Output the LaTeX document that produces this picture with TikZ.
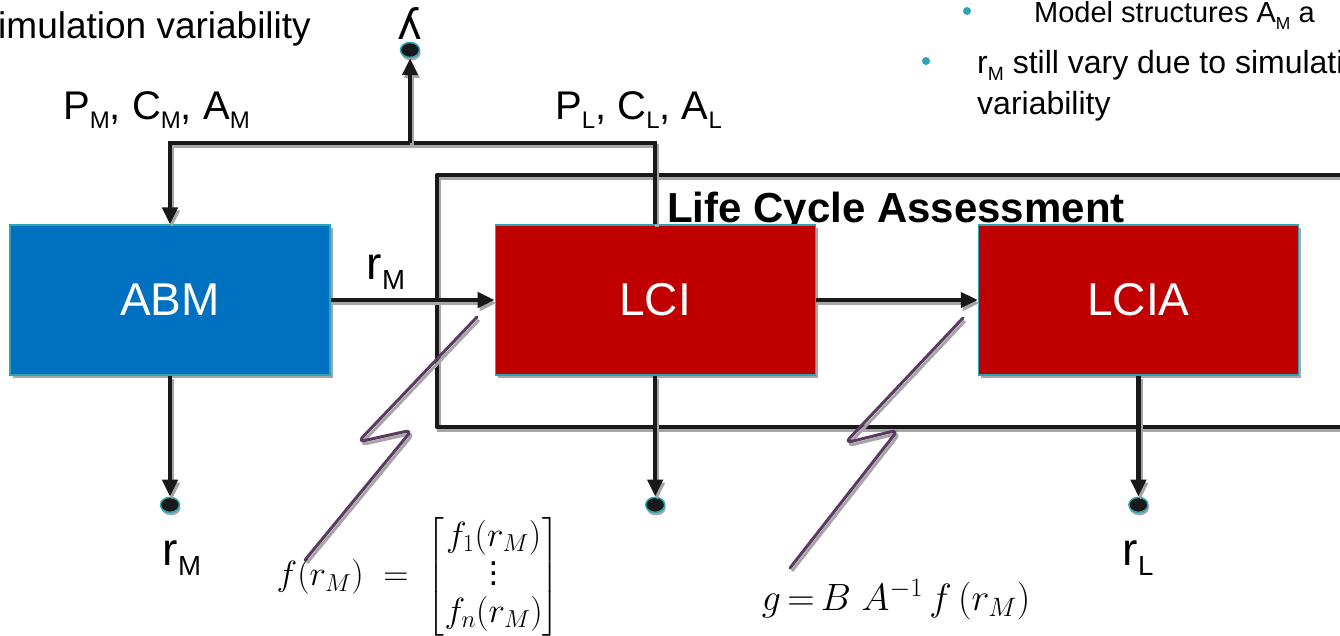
\RequirePackage{fix-cm}
\documentclass[tikz,border=0pt]{standalone}
\usepackage{amsmath}
\usepackage{fontspec}
\setmainfont{Liberation Sans}
\newfontfamily\ipafont{DejaVu Sans}
\usetikzlibrary{arrows.meta,shapes.geometric,shadows,positioning}
\definecolor{abmblue}{HTML}{0070C0}
\definecolor{lcared}{HTML}{C00000}
\definecolor{edgeteal}{HTML}{2BA5B5}
\definecolor{zigpurple}{HTML}{5A3A60}
\definecolor{linegray}{HTML}{A6A6A6}
% small lowered subscript as on the slide
\newcommand{\lo}[1]{\raisebox{-0.22em}{\scalebox{0.6}{#1}}}
% vertical dots that grow with the font
\newcommand{\tallvdots}{\vbox{\baselineskip=10pt\lineskiplimit=0pt\kern4pt\hbox{.}\hbox{.}\hbox{.}}}
\tikzset{
  stage/.style={rectangle,draw=edgeteal,line width=1.2pt,minimum width=320pt,
    minimum height=150pt,inner sep=0pt,text=white,font=\fontsize{46}{52}\selectfont,
    drop shadow={shadow xshift=3pt,shadow yshift=-3pt,fill=linegray,opacity=1}},
  flow/.style={draw=black!90,line width=4.5pt,
    preaction={draw=linegray,line width=4.5pt,transform canvas={shift={(2pt,-3pt)}}}},
  tip/.style={-{Triangle[length=17pt,width=15pt]}},
  term/.style={ellipse,fill=black!90,draw=edgeteal,line width=1.5pt,minimum width=19pt,
    minimum height=15pt,inner sep=0pt,
    drop shadow={shadow xshift=1pt,shadow yshift=-3pt,fill=linegray,opacity=1}},
  lab/.style={inner sep=0pt,font=\fontsize{46}{52}\selectfont},
  plab/.style={inner sep=0pt,font=\fontsize{40}{46}\selectfont},
  zig/.style={draw=zigpurple,line width=3pt,rounded corners=7pt,line cap=round,
    preaction={draw=linegray,line width=3pt,transform canvas={shift={(2pt,-3pt)}}}},
}
\begin{document}
\begin{tikzpicture}[x=1pt,y=-1pt]
\useasboundingbox (0,0) rectangle (1340,636);

% slide text
\node[inner sep=0pt,anchor=base east,font=\fontsize{37}{42}\selectfont] (simtxt) at (311,39) {imulation variability};
\fill[edgeteal] (967,11) circle (4pt);
\node[inner sep=0pt,anchor=base west,font=\fontsize{29}{34}\selectfont] (subitem) at (1034,23) {Model structures A\lo{M} a};
\fill[edgeteal] (926,61) circle (4pt);
\node[inner sep=0pt,anchor=north west,align=left,font=\fontsize{32}{41}\selectfont] (item) at (977,50) {r\lo{M} still vary due to simulati\\variability};

% LCA frame
\draw[flow,line join=round] (437,175) rectangle (1400,427);
\node[inner sep=0pt,anchor=base west,font=\bfseries\fontsize{42}{48}\selectfont] (lcatitle) at (667,223) {Life Cycle Assessment};

% stages
\node[stage,fill=abmblue] (abm) at (170,300) {ABM};
\node[stage,fill=lcared,right=164pt of abm] (lci) {LCI};
\node[stage,fill=lcared,right=162pt of lci] (lcia) {LCIA};

% outputs
\node[term,below=121pt of abm] (tM) {};
\node[term,below=121pt of lci] (tLCI) {};
\node[term,below=121pt of lcia] (tL) {};
\node[term] (tlam) at (410,50) {};
\node[inner sep=0pt,font=\ipafont\fontsize{42}{48}\selectfont] (lam) at (410,24) {ʎ};
\node[lab] (rMout) at (182,558) {r\lo{M}};
\node[lab] (rLout) at (1138,558) {r\lo{L}};

% flows
\coordinate (fb) at (410,143);
\draw[flow,tip] (abm) -- (lci);
\node[lab] (rMflow) at (386,272) {r\lo{M}};
\draw[flow,tip] (lci) -- (lcia);
\draw[flow,tip] (lci.north) |- (abm.north |- fb) -- (abm.north);
\draw[flow,tip] (fb) -- (tlam.south);
\draw[flow,tip] (abm.south) -- (tM.north);
\draw[flow,tip] (lci.south) -- (tLCI.north);
\draw[flow,tip] (lcia.south) -- (tL.north);
\node[plab,anchor=base west] (pM) at (63,120) {P\lo{M}, C\lo{M}, A\lo{M}};
\node[plab,anchor=base west] (pL) at (555,120) {P\lo{L}, C\lo{L}, A\lo{L}};

% formulas
\draw[zig] (477,317) -- (358,442) -- (412,430) -- (305,560);
\draw[zig] (963,318) -- (845,443) -- (898,430) -- (790,568);
\node[inner sep=0pt,font=\fontsize{35}{37}\selectfont] (fvec) at (418,577)
  {$f(r_M) \;=\; \begin{bmatrix} f_1(r_M)\\ \tallvdots \\ f_n(r_M)\end{bmatrix}$};
\node[inner sep=0pt,font=\fontsize{38}{44}\selectfont] (gval) at (896,600)
  {$g\,{=}\,B\;A^{-1}\,f\,(r_M)$};
\end{tikzpicture}
\end{document}
